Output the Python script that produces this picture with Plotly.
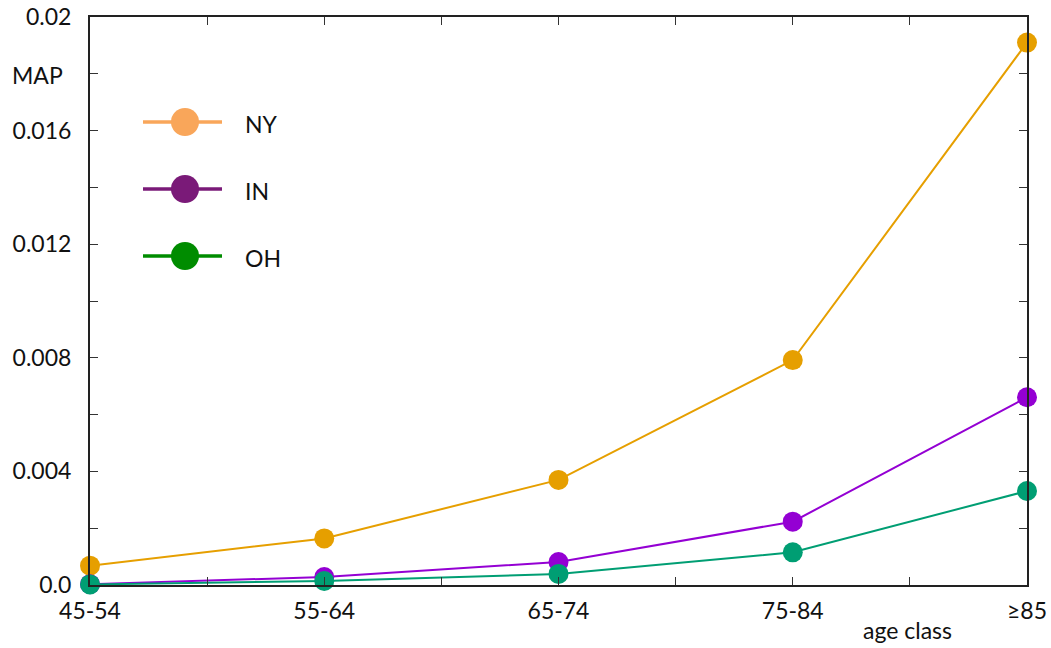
import plotly.graph_objects as go

categories = ["45-54", "55-64", "65-74", "75-84", "≥85"]
ny = [0.00068, 0.00164, 0.0037, 0.00792, 0.0191]
in_ = [0.00003, 0.00028, 0.00081, 0.00223, 0.00661]
oh = [0.00002, 0.00014, 0.00039, 0.00115, 0.00331]
series_names = ["NY", "IN", "OH"]
line_colors = ["#E69F00", "#9400D3", "#009E73"]
legend_colors = ["#F9A65A", "#7A1A78", "#008C00"]
y_major = [0.0, 0.004, 0.008, 0.012, 0.016, 0.02]
y_major_text = ["0.0", "0.004", "0.008", "0.012", "0.016", "0.02"]

FONT = "Lato"
W, H = 1051, 648
L, R, T, B = 90, 24, 17, 63
PW, PH = W - L - R, H - T - B

xs = list(range(len(categories)))
fig = go.Figure()
for name, vals, col in zip(series_names, [ny, in_, oh], line_colors):
    fig.add_trace(go.Scatter(x=xs, y=vals, mode="lines+markers", name=name,
                             line=dict(color=col, width=2),
                             marker=dict(color=col, size=20, line=dict(width=0)),
                             cliponaxis=False, showlegend=False))

# y ticks every 0.002, labels at 0.004 multiples
ytv, ytt = [], []
for i in range(11):
    v = round(i * 0.002, 3)
    ytv.append(v)
    ytt.append(y_major_text[i // 2] if i % 2 == 0 else "")
xtv, xtt = [], []
for i in range(len(categories) * 2 - 1):
    xtv.append(i / 2)
    xtt.append(categories[i // 2] if i % 2 == 0 else "")

def px(x):
    return (x - L) / PW
def py(y):
    return (H - B - y) / PH

shapes, annotations = [], []
leg_y = [122, 189, 256]
for name, col, yy in zip(series_names, legend_colors, leg_y):
    shapes.append(dict(type="line", xref="paper", yref="paper",
                       x0=px(143), x1=px(222), y0=py(yy), y1=py(yy),
                       line=dict(color=col, width=3.5), layer="above"))
    shapes.append(dict(type="circle", xref="paper", yref="paper",
                       xsizemode="pixel", ysizemode="pixel",
                       xanchor=px(185), yanchor=py(yy),
                       x0=-14, x1=14, y0=-14, y1=14,
                       fillcolor=col, line=dict(width=0), layer="above"))
    annotations.append(dict(text=name, xref="paper", yref="paper",
                            x=px(243), y=py(yy + 2), xanchor="left", yanchor="middle",
                            showarrow=False, font=dict(size=23, color="#111", family=FONT)))

annotations.append(dict(text="MAP", xref="paper", yref="paper", x=px(10), y=py(75),
                        xanchor="left", yanchor="middle", showarrow=False,
                        font=dict(size=23, color="#111", family=FONT)))
annotations.append(dict(text="age class", xref="paper", yref="paper", x=px(907), y=py(630),
                        xanchor="center", yanchor="middle", showarrow=False,
                        font=dict(size=23, color="#111", family=FONT)))

fig.update_layout(
    template="none",
    width=W, height=H,
    margin=dict(l=L, r=R, t=T, b=B, autoexpand=False),
    paper_bgcolor="white", plot_bgcolor="white",
    font=dict(family=FONT, size=23, color="#111"),
    shapes=shapes, annotations=annotations,
    xaxis=dict(range=[0, len(categories) - 1], tickvals=xtv, ticktext=xtt,
               ticks="inside", ticklen=8, tickwidth=1.3, tickcolor="#333",
               showline=True, linecolor="#222", linewidth=2, mirror="allticks",
               showgrid=False, zeroline=False, fixedrange=True, automargin=False,
               ticklabelstandoff=4),
    yaxis=dict(range=[0, 0.02], tickvals=ytv, ticktext=ytt,
               ticks="inside", ticklen=8, tickwidth=1.3, tickcolor="#333",
               showline=True, linecolor="#222", linewidth=2, mirror="allticks",
               showgrid=False, zeroline=False, fixedrange=True, automargin=False,
               ticklabelstandoff=12),
)

fig.write_html("out.html", config={"displayModeBar": False},
               post_script="document.body.style.margin='0';document.body.style.overflow='hidden';")
